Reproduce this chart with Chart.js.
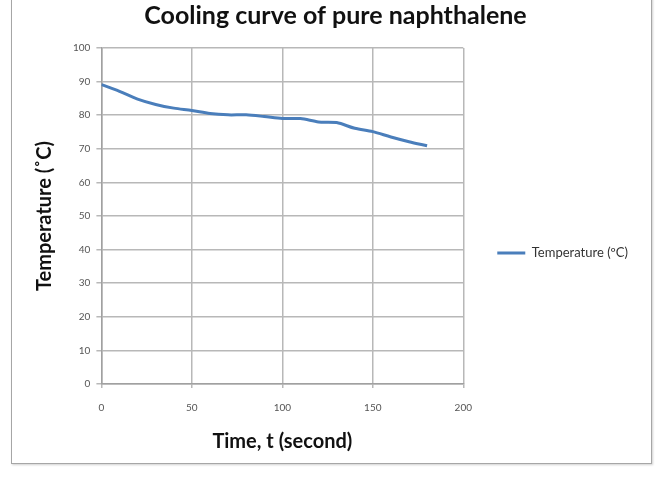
<!DOCTYPE html>
<html>
<head>
<meta charset="utf-8">
<title>Cooling curve of pure naphthalene</title>
<script src="https://cdn.jsdelivr.net/npm/chart.js"></script>
<style>
  body { margin: 0; background: #fff; }
  #wrap { position: relative; width: 659px; height: 479px; }
  #marco {
    position: absolute; left: 11px; top: -4px; width: 639px; height: 466px;
    border: 1px solid #a6a6a6; box-shadow: 1px 1px 2px #d0d0d0; pointer-events: none;
  }
</style>
</head>
<body>
<div id="wrap">
  <canvas id="grafica" width="659" height="479"></canvas>
  <div id="marco"></div>
</div>
<script>
// Datos
const tiempos = [0, 10, 20, 30, 40, 50, 60, 70, 80, 90, 100, 110, 120, 130, 140, 150, 160, 170, 180];
const temperaturas = [89.1, 87.1, 84.8, 83.2, 82.1, 81.4, 80.5, 80.1, 80.1, 79.6, 79.0, 79.0, 78.0, 77.8, 76.1, 75.1, 73.5, 72.1, 70.9];
const ticksX = [0, 50, 100, 150, 200];
const ticksY = [0, 10, 20, 30, 40, 50, 60, 70, 80, 90, 100];

const puntos = tiempos.map((t, i) => ({ x: t, y: temperaturas[i] }));

const fuente = 'Lato, "Open Sans", sans-serif';

const config = {
    type: 'scatter',
    data: {
        datasets: [{
            label: 'Temperature (ºC)',
            data: puntos,
            showLine: true,
            borderColor: '#4a7ebb',
            backgroundColor: '#4a7ebb',
            borderWidth: 3,
            pointRadius: 0,
            tension: 0.3
        }]
    },
    options: {
        responsive: false,
        animation: false,
        layout: { padding: { left: 33, right: 21, top: 0, bottom: 25 } },
        plugins: {
            title: {
                display: true,
                text: 'Cooling curve of pure naphthalene',
                color: '#111',
                font: { family: fuente, size: 25, weight: 'bold' },
                padding: { top: 1, bottom: 17 }
            },
            legend: {
                position: 'right',
                maxWidth: 220,
                // titulo vacio solo para bajar la leyenda
                title: { display: true, text: '', font: { size: 10 }, padding: { top: 0, bottom: 40 } },
                labels: {
                    color: '#333',
                    font: { family: fuente, size: 13 },
                    boxWidth: 28,
                    boxHeight: 3,
                    padding: 34,
                    // muestra como linea fina, sin borde
                    generateLabels: chart => Chart.defaults.plugins.legend.labels.generateLabels(chart)
                        .map(item => ({ ...item, lineWidth: 0 }))
                }
            },
            tooltip: { enabled: false }
        },
        scales: {
            x: {
                type: 'linear',
                min: 0,
                max: 200,
                afterBuildTicks: axis => { axis.ticks = ticksX.map(v => ({ value: v })); },
                grid: { color: '#b8b8b8', lineWidth: 1.5, tickLength: 4 },
                border: { color: '#a0a0a0', width: 1.5 },
                ticks: { color: '#555', font: { family: fuente, size: 10 }, padding: 14 },
                title: {
                    display: true,
                    text: 'Time, t (second)',
                    color: '#111',
                    font: { family: fuente, size: 20, weight: 'bold' },
                    padding: { top: 2, bottom: 0 }
                }
            },
            y: {
                min: 0,
                max: 100,
                afterBuildTicks: axis => { axis.ticks = ticksY.map(v => ({ value: v })); },
                grid: { color: '#b8b8b8', lineWidth: 1.5, tickLength: 5 },
                border: { color: '#a0a0a0', width: 1.5 },
                ticks: { color: '#555', font: { family: fuente, size: 10 }, padding: 6 },
                title: {
                    display: true,
                    text: 'Temperature (˚C)',
                    color: '#111',
                    font: { family: fuente, size: 20, weight: 'bold' },
                    padding: { top: 0, bottom: 10 }
                }
            }
        }
    }
};

const grafica = new Chart(document.getElementById('grafica'), config);
</script>
</body>
</html>
